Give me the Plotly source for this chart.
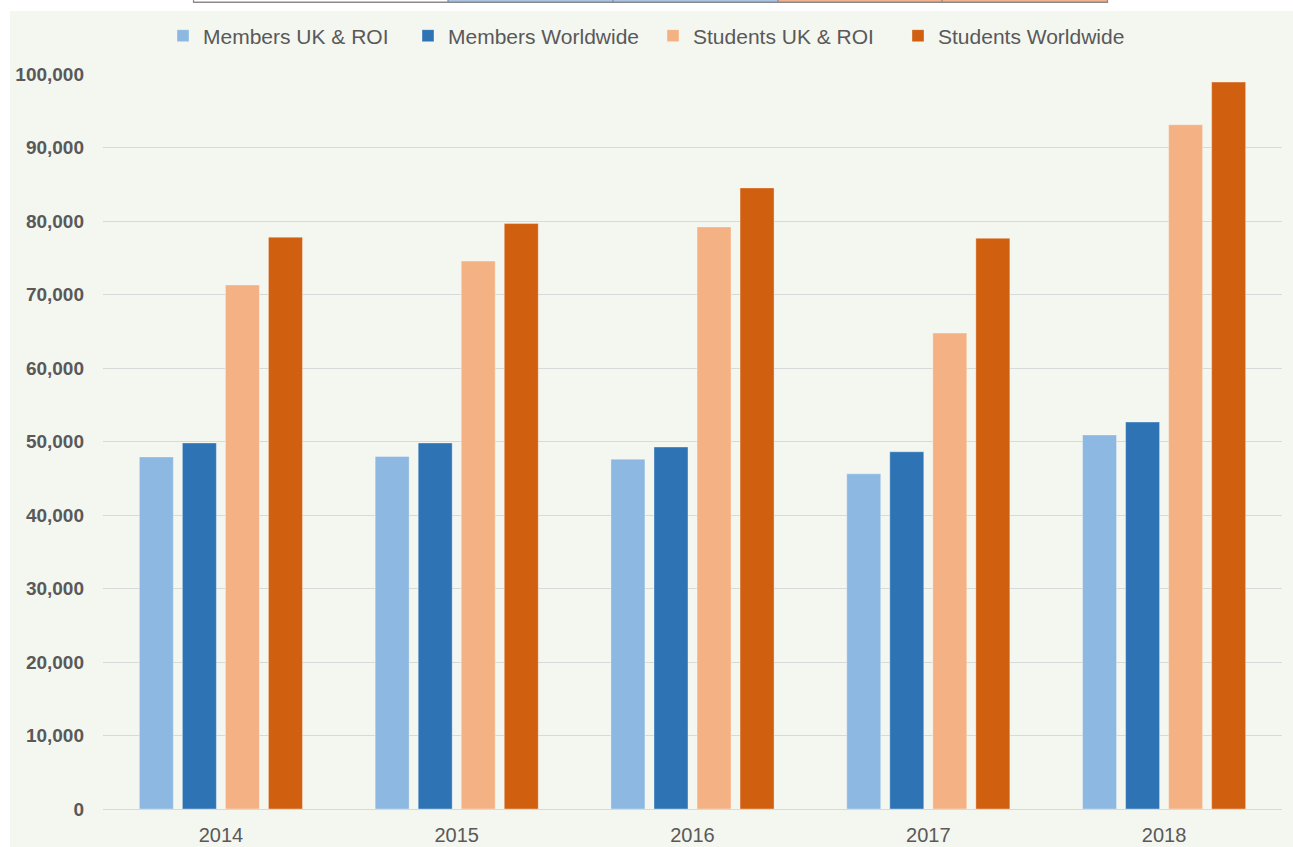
import plotly.graph_objects as go

years = ["2014", "2015", "2016", "2017", "2018"]
members_uk_roi = [47900, 47950, 47600, 45600, 50900]
members_worldwide = [49800, 49800, 49250, 48600, 52650]
students_uk_roi = [71300, 74550, 79200, 64750, 93100]
students_worldwide = [77800, 79650, 84500, 77650, 98900]

series_names = ["Members UK & ROI", "Members Worldwide", "Students UK & ROI", "Students Worldwide"]
series_colors = ["#8DB8E1", "#2E74B5", "#F4B183", "#D05F10"]
series_values = [members_uk_roi, members_worldwide, students_uk_roi, students_worldwide]

y_ticks = list(range(0, 100001, 10000))

W, H = 1293, 847
L, R, T, B = 103, 11, 74, 38
pw, ph = W - L - R, H - T - B


def px(x):
    return (x - L) / pw


def py(y):
    return (H - B - y) / ph


fig = go.Figure()
for name, col, vals in zip(series_names, series_colors, series_values):
    fig.add_trace(go.Bar(
        x=years, y=vals, name=name,
        marker=dict(color=col, line=dict(color="rgba(255,255,255,0.35)", width=1)),
    ))

shapes = [
    # background panel
    dict(type="rect", xref="paper", yref="paper", x0=px(10), x1=px(W + 5), y0=py(H + 5), y1=py(11),
         fillcolor="#F4F6F0", line=dict(width=0), layer="below"),
]
# strip of a table at the very top
cells = [(193, 448, "#FFFFFF"), (448, 613, "#A9C4E2"), (613, 778, "#A9C4E2"),
         (778, 942, "#F2B28E"), (942, 1107, "#F2B28E")]
for x0, x1, c in cells:
    shapes.append(dict(type="rect", xref="paper", yref="paper", x0=px(x0), x1=px(x1), y0=py(2), y1=py(-2),
                       fillcolor=c, line=dict(width=0)))
shapes.append(dict(type="line", xref="paper", yref="paper", x0=px(193), x1=px(1108), y0=py(2.2), y1=py(2.2),
                   line=dict(color="#8A8A8A", width=1.5)))
for xv in [193.5, 448, 613, 778, 942, 1107.5]:
    shapes.append(dict(type="line", xref="paper", yref="paper", x0=px(xv), x1=px(xv), y0=py(3), y1=py(-2),
                       line=dict(color="#8A8A8A", width=1.2)))

fig.update_layout(
    width=W, height=H,
    margin=dict(l=L, r=R, t=T, b=B, autoexpand=False),
    paper_bgcolor="#FFFFFF",
    plot_bgcolor="#F4F6F0",
    font=dict(family="Liberation Sans, Arial, sans-serif", color="#595959"),
    barmode="group",
    bargap=0.27,
    bargroupgap=0.21,
    shapes=shapes,
    legend=dict(
        orientation="h", x=px(163), xanchor="left", y=py(36), yanchor="middle",
        font=dict(size=21, color="#595959"), bgcolor="rgba(0,0,0,0)",
        itemwidth=30, traceorder="normal",
        entrywidth=200, entrywidthmode="pixels",
    ),
    xaxis=dict(
        showgrid=False, showline=True, linecolor="#D9D9D9", linewidth=1,
        ticks="", tickfont=dict(size=20, color="#595959"), ticklabelstandoff=8,
        automargin=False,
    ),
    yaxis=dict(
        range=[0, 100000], tickvals=y_ticks, tickformat=",",
        showgrid=True, gridcolor="#D9D9D9", gridwidth=1,
        zeroline=False, showline=False, ticks="",
        tickfont=dict(size=19, color="#595959", weight="bold"), ticklabelstandoff=18,
        automargin=False,
    ),
)

fig.write_html("out.html")
